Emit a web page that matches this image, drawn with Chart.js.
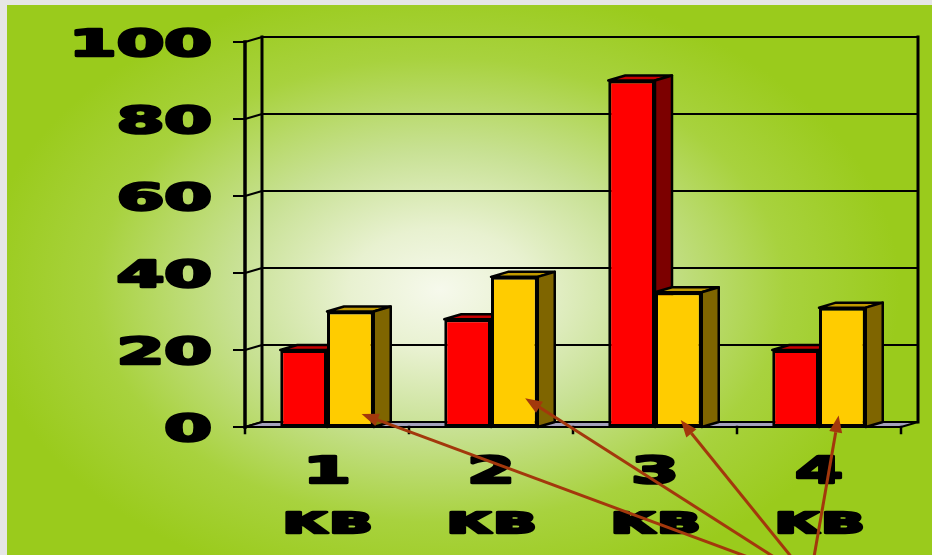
<!DOCTYPE html>
<html>
<head>
<meta charset="utf-8">
<script src="https://cdn.jsdelivr.net/npm/chart.js@4/dist/chart.umd.min.js"></script>
<style>
  body { margin: 0; background: #e6e6e6; }
  canvas { display: block; }
</style>
</head>
<body>
<canvas id="chart" width="932" height="555"></canvas>
<script>
// quarter results
const quarters = ['1', '2', '3', '4'];
const quarterUnit = 'кв';
const redValues = [20, 28, 90, 20];
const yellowValues = [30, 39, 35, 31];
const yTicks = [0, 20, 40, 60, 80, 100];

// where the brown arrows touch the yellow bars (share of bar width, value above zero)
const arrowTipShare = [0.74, 0.73, 0.55, 0.42];
const arrowTipValue = [3.4, 7.5, 1.8, 3.0];

const DEPTH_X = 17;
const DEPTH_Y = -5;
const FONT = 'bold 37px "DejaVu Sans"';
const STRETCH = 1.85;

// stretched heavy text, like the original wide font
const drawWideText = (ctx, text, x, y, align) => {
  ctx.save();
  ctx.translate(x, y);
  ctx.scale(STRETCH, 1);
  ctx.font = FONT;
  ctx.textAlign = align;
  ctx.textBaseline = 'alphabetic';
  ctx.fillStyle = '#000';
  ctx.strokeStyle = '#000';
  ctx.lineWidth = 2.6;
  ctx.lineJoin = 'round';
  ctx.fillText(text, 0, 0);
  ctx.strokeText(text, 0, 0);
  ctx.restore();
};

const poly = (ctx, pts, fill) => {
  ctx.beginPath();
  ctx.moveTo(pts[0][0], pts[0][1]);
  for (let i = 1; i < pts.length; i++) ctx.lineTo(pts[i][0], pts[i][1]);
  ctx.closePath();
  if (fill) {
    ctx.fillStyle = fill;
    ctx.fill();
  }
  ctx.stroke();
};

const scene3d = {
  id: 'scene3d',
  beforeDraw(chart) {
    const { ctx, width, height } = chart;
    ctx.save();
    ctx.fillStyle = '#e6e6e6';
    ctx.fillRect(0, 0, width, height);
    // green backdrop with a pale centre
    const cx = 440, cy = 290, rx = 460, ry = 310;
    ctx.beginPath();
    ctx.rect(7, 5, width - 7, height - 5);
    ctx.clip();
    ctx.translate(cx, cy);
    ctx.scale(1, ry / rx);
    const g = ctx.createRadialGradient(0, 0, 0, 0, 0, rx);
    g.addColorStop(0, '#f6f9ec');
    g.addColorStop(0.2, '#e8f1d0');
    g.addColorStop(0.45, '#c8e194');
    g.addColorStop(0.75, '#a8d23e');
    g.addColorStop(1, '#9acb1c');
    ctx.fillStyle = g;
    ctx.fillRect(-cx - 10, -cy * rx / ry - 10, width + 20, (height + 20) * rx / ry);
    ctx.restore();
  },
  beforeDatasetsDraw(chart) {
    const { ctx, chartArea, scales } = chart;
    const y = scales.y;
    const left = chartArea.left, right = chartArea.right;
    const y0 = y.getPixelForValue(0);
    const yTop = y.getPixelForValue(100);
    ctx.save();
    ctx.strokeStyle = '#000';
    ctx.lineCap = 'square';
    ctx.lineJoin = 'round';

    // back wall gridlines with their side-wall connectors and ticks
    ctx.lineWidth = 2;
    yTicks.forEach(v => {
      const py = y.getPixelForValue(v);
      ctx.beginPath();
      if (v > 0) {
        ctx.moveTo(left + DEPTH_X, py + DEPTH_Y);
        ctx.lineTo(right + DEPTH_X, py + DEPTH_Y);
      }
      ctx.moveTo(left - 11, py);
      ctx.lineTo(left, py);
      ctx.lineTo(left + DEPTH_X, py + DEPTH_Y);
      ctx.stroke();
    });

    // back corner and right wall edge
    ctx.lineWidth = 3;
    ctx.beginPath();
    ctx.moveTo(left + DEPTH_X, yTop + DEPTH_Y);
    ctx.lineTo(left + DEPTH_X, y0 + DEPTH_Y);
    ctx.moveTo(right + DEPTH_X, yTop + DEPTH_Y);
    ctx.lineTo(right + DEPTH_X, y0 + DEPTH_Y);
    ctx.stroke();

    // floor slab
    ctx.lineWidth = 2;
    poly(ctx, [[left, y0], [left + DEPTH_X, y0 + DEPTH_Y], [right + DEPTH_X, y0 + DEPTH_Y], [right, y0]], '#a4a2bc');

    // category ticks under the floor
    const n = quarters.length;
    const step = (right - left) / n;
    ctx.lineWidth = 2.5;
    ctx.beginPath();
    for (let i = 0; i <= n; i++) {
      const px = left + i * step;
      ctx.moveTo(px, y0);
      ctx.lineTo(px, y0 + 6);
    }
    ctx.stroke();

    // front axis line
    ctx.lineWidth = 3.5;
    ctx.beginPath();
    ctx.moveTo(left, yTop);
    ctx.lineTo(left, y0);
    ctx.stroke();
    ctx.restore();
  },
  beforeDatasetDraw() {
    // bars are painted below in dataset order, so later bars overlap earlier sides
    return false;
  },
  afterDatasetsDraw(chart) {
    const { ctx } = chart;
    ctx.save();
    chart.data.datasets.forEach((ds, di) => {
      const meta = chart.getDatasetMeta(di);
      meta.data.forEach(bar => {
        const { x, y, base, width } = bar.getProps(['x', 'y', 'base', 'width'], true);
        const x1 = x - width / 2, x2 = x + width / 2;
        bar.draw(ctx);
        ctx.strokeStyle = '#000';
        ctx.lineWidth = 2.5;
        ctx.lineJoin = 'round';
        poly(ctx, [[x1, y], [x1 + DEPTH_X, y + DEPTH_Y], [x2 + DEPTH_X, y + DEPTH_Y], [x2, y]], ds.topColor);
        poly(ctx, [[x2, y], [x2 + DEPTH_X, y + DEPTH_Y], [x2 + DEPTH_X, base + DEPTH_Y], [x2, base]], ds.sideColor);
      });
    });
    ctx.restore();
  },
  afterDraw(chart) {
    const { ctx, scales } = chart;
    const x = scales.x, y = scales.y;

    // value labels on the left
    yTicks.forEach(v => {
      drawWideText(ctx, String(v), 212, y.getPixelForValue(v) + 14, 'right');
    });

    // quarter labels
    quarters.forEach((q, i) => {
      const px = x.getPixelForValue(i);
      drawWideText(ctx, q, px, 483, 'center');
      drawWideText(ctx, quarterUnit, px, 533, 'center');
    });

    // arrows from the bottom toward the yellow bars
    const meta = chart.getDatasetMeta(1);
    const ox = 810, oy = 580;
    ctx.save();
    ctx.strokeStyle = '#a3380c';
    ctx.fillStyle = '#a3380c';
    ctx.lineWidth = 3;
    meta.data.forEach((bar, i) => {
      const { x: bx, width } = bar.getProps(['x', 'width'], true);
      const tx = bx - width / 2 + arrowTipShare[i] * width;
      const ty = y.getPixelForValue(arrowTipValue[i]);
      const ang = Math.atan2(ty - oy, tx - ox);
      const len = 17, half = 6.5;
      const bxh = tx - len * Math.cos(ang), byh = ty - len * Math.sin(ang);
      ctx.beginPath();
      ctx.moveTo(ox, oy);
      ctx.lineTo(bxh, byh);
      ctx.stroke();
      ctx.beginPath();
      ctx.moveTo(tx, ty);
      ctx.lineTo(bxh + half * Math.sin(ang), byh - half * Math.cos(ang));
      ctx.lineTo(bxh - half * Math.sin(ang), byh + half * Math.cos(ang));
      ctx.closePath();
      ctx.fill();
    });
    ctx.restore();
  }
};

new Chart(document.getElementById('chart'), {
  type: 'bar',
  data: {
    labels: quarters,
    datasets: [
      {
        data: redValues,
        backgroundColor: '#ff0000',
        topColor: '#c80000',
        sideColor: '#7c0000',
        borderColor: '#000',
        borderWidth: 3,
        borderSkipped: false
      },
      {
        data: yellowValues,
        backgroundColor: '#ffcc00',
        topColor: '#c09a00',
        sideColor: '#7f6500',
        borderColor: '#000',
        borderWidth: 3,
        borderSkipped: false
      }
    ]
  },
  options: {
    responsive: false,
    animation: false,
    layout: { padding: { left: 245, right: 31, top: 42, bottom: 128 } },
    categoryPercentage: 0.57,
    barPercentage: 1,
    plugins: { legend: { display: false }, tooltip: { enabled: false } },
    scales: {
      x: { display: false },
      y: { display: false, min: 0, max: 100 }
    }
  },
  plugins: [scene3d]
});
</script>
</body>
</html>
